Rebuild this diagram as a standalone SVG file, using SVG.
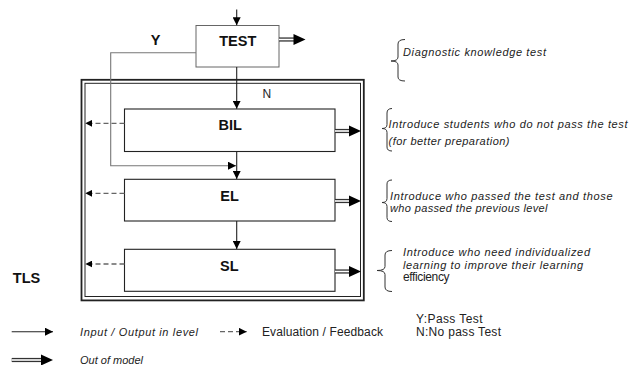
<svg xmlns="http://www.w3.org/2000/svg" xmlns:xlink="http://www.w3.org/1999/xlink" width="631" height="365" viewBox="0 0 631 365">
  <style>
    .box { fill: #fff; stroke: #222; stroke-width: 1.1; }
    .box-test { fill: #fff; stroke: #666; stroke-width: 1; }
    .lbl { font-family: "Liberation Sans", Arial, sans-serif; font-weight: bold; font-size: 14.5px; fill: #111; text-anchor: middle; }
    .note { font-family: "Liberation Sans", Arial, sans-serif; font-style: italic; font-size: 11px; fill: #222; }
    .plain { font-family: "Liberation Sans", Arial, sans-serif; font-size: 12px; fill: #222; }
    .line { fill: none; stroke: #222; stroke-width: 1.1; }
    .yline { fill: none; stroke: #777; stroke-width: 1.1; }
    .dash { fill: none; stroke: #666; stroke-width: 1.3; stroke-dasharray: 5 3; }
    .dbl-out { fill: none; stroke: #333; stroke-width: 4.2; }
    .dbl-in { fill: none; stroke: #fff; stroke-width: 1.6; }
    .head { fill: #000; }
    .brace { fill: none; stroke: #333; stroke-width: 1; }
  </style>
  <defs>
    <marker id="arrow" markerUnits="userSpaceOnUse" viewBox="0 0 8 8" markerWidth="8" markerHeight="8" refX="8" refY="4" orient="auto">
      <path d="M0,0 L8,4 L0,8 z" fill="#000"/>
    </marker>
    <marker id="arrow-left" markerUnits="userSpaceOnUse" viewBox="0 0 7 7" markerWidth="7" markerHeight="7" refX="7" refY="3.5" orient="auto">
      <path d="M0,0 L7,3.5 L0,7 z" fill="#000"/>
    </marker>
    <!-- big head used at the end of the double "out of model" arrows -->
    <path id="dhead" d="M0,-5.5 L12,0 L0,5.5 z"/>
  </defs>

  <!-- TLS frame (double border) -->
  <g id="tls-frame">
    <rect x="81.5" y="79.8" width="282.3" height="220.6" fill="none" stroke="#222" stroke-width="1.8"/>
    <rect x="85" y="83.3" width="275.5" height="213.2" fill="none" stroke="#222" stroke-width="1"/>
    <text class="lbl" x="26.5" y="283">TLS</text>
  </g>

  <g id="node-test">
    <rect class="box-test" x="196" y="25.5" width="83" height="41.5"/>
    <text class="lbl" x="237.8" y="45.5" font-size="15">TEST</text>
  </g>

  <g id="node-bil">
    <rect class="box" x="124.5" y="109" width="210.5" height="42.5"/>
    <text class="lbl" x="230.3" y="130">BIL</text>
  </g>

  <g id="node-el">
    <rect class="box" x="124.5" y="179.3" width="210.5" height="41.7"/>
    <text class="lbl" x="229.6" y="200.5">EL</text>
  </g>

  <g id="node-sl">
    <rect class="box" x="124.5" y="249.3" width="210.5" height="42"/>
    <text class="lbl" x="229.3" y="270.5">SL</text>
  </g>

  <g id="connectors">
    <!-- input into TEST -->
    <path class="line" d="M236.7,9.5 V25.3" marker-end="url(#arrow)"/>
    <!-- N: TEST to BIL -->
    <path class="line" d="M236.7,67 V108.8" marker-end="url(#arrow)"/>
    <text class="plain" x="262.5" y="97.5">N</text>
    <!-- Y: TEST around to EL -->
    <path class="yline" d="M196,52.7 H110.7 V165.7 H236" marker-end="url(#arrow)"/>
    <text class="lbl" x="155.5" y="44.5" font-size="14">Y</text>
    <!-- BIL to EL, EL to SL -->
    <path class="line" d="M236.7,151.5 V179" marker-end="url(#arrow)"/>
    <path class="line" d="M236.7,221 V249" marker-end="url(#arrow)"/>

    <!-- evaluation / feedback -->
    <path class="dash" d="M124.5,123.3 H85.3" marker-end="url(#arrow-left)"/>
    <path class="dash" d="M124.5,193.3 H85.3" marker-end="url(#arrow-left)"/>
    <path class="dash" d="M124.5,264 H85.3" marker-end="url(#arrow-left)"/>

    <!-- out of model -->
    <path class="dbl-out" d="M279,39.5 H294"/>
    <path class="dbl-in" d="M279,39.5 H294"/>
    <use xlink:href="#dhead" href="#dhead" class="head" x="293.5" y="39.5"/>

    <path class="dbl-out" d="M335,131 H350"/>
    <path class="dbl-in" d="M335,131 H350"/>
    <use xlink:href="#dhead" href="#dhead" class="head" x="349" y="131"/>

    <path class="dbl-out" d="M335,201 H350"/>
    <path class="dbl-in" d="M335,201 H350"/>
    <use xlink:href="#dhead" href="#dhead" class="head" x="349" y="201"/>

    <path class="dbl-out" d="M335,271.5 H350"/>
    <path class="dbl-in" d="M335,271.5 H350"/>
    <use xlink:href="#dhead" href="#dhead" class="head" x="349" y="271.5"/>
  </g>

  <!-- side notes with braces -->
  <g id="note-test">
    <path class="brace" d="M405,39.5 Q398,39.5 398,44 L398,57 Q398,61 391,61 Q398,61 398,65 L398,77 Q398,81 405,81"/>
    <text class="note" x="403" y="56" textLength="143">Diagnostic knowledge test</text>
  </g>
  <g id="note-bil">
    <path class="brace" d="M392,108.5 Q387,108.5 387,113 L387,124.5 Q387,128.5 382,128.5 Q387,128.5 387,132.5 L387,147 Q387,151 392,151"/>
    <text class="note" x="388.5" y="128" textLength="239">Introduce students who do not pass the test</text>
    <text class="note" x="388.5" y="144.5" textLength="121">(for better preparation)</text>
  </g>
  <g id="note-el">
    <path class="brace" d="M392,180 Q387,180 387,184 L387,198.5 Q387,202.5 382,202.5 Q387,202.5 387,206.5 L387,217.5 Q387,221.5 392,221.5"/>
    <text class="note" x="390" y="199.5" textLength="222.5">Introduce who passed the test and those</text>
    <text class="note" x="390" y="212.3" textLength="157.5">who passed the previous level</text>
  </g>
  <g id="note-sl">
    <path class="brace" d="M392,250.5 Q385,250.5 385,255 L385,266.5 Q385,270.5 377,270.5 Q385,270.5 385,274.5 L385,287 Q385,291.5 392,291.5"/>
    <text class="note" x="403" y="256" textLength="187">Introduce who need individualized</text>
    <text class="note" x="403" y="268.6" textLength="180">learning to improve their learning</text>
    <text class="plain" x="403" y="281" font-size="11" textLength="46.5">efficiency</text>
  </g>

  <!-- legend -->
  <g id="legend">
    <path class="line" d="M11.7,331.7 H53" marker-end="url(#arrow)"/>
    <text class="note" x="80" y="336" font-size="12" textLength="118">Input / Output in level</text>
    <path class="dash" d="M220,331.7 H246.7" stroke-dasharray="4 3" marker-end="url(#arrow)"/>
    <text class="plain" x="262" y="336" textLength="121">Evaluation / Feedback</text>
    <text class="plain" x="416" y="322.5" textLength="66.5">Y:Pass Test</text>
    <text class="plain" x="416" y="336" textLength="85">N:No pass Test</text>
    <path class="dbl-out" d="M11.7,360 H42"/>
    <path class="dbl-in" d="M11.7,360 H42"/>
    <use xlink:href="#dhead" href="#dhead" class="head" x="41" y="360"/>
    <text class="note" x="80" y="363.5" font-size="10">Out of model</text>
  </g>
</svg>
